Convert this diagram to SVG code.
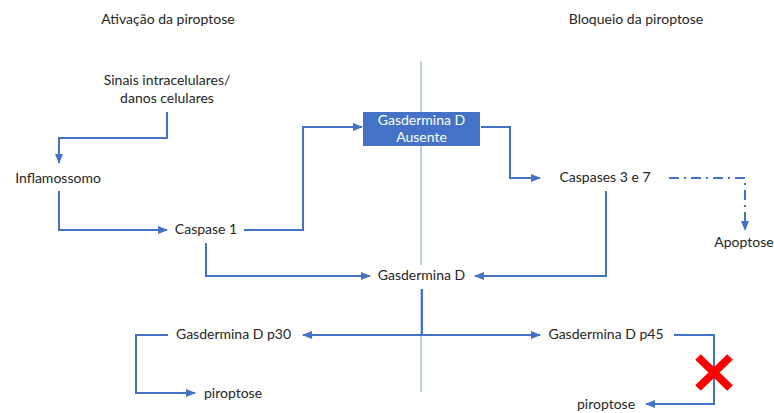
<svg xmlns="http://www.w3.org/2000/svg" width="774" height="413" viewBox="0 0 774 413">
<style>
text{font-family:Lato,"Liberation Sans",sans-serif;font-size:14px;fill:#262626;text-anchor:middle}
.c{fill:none;stroke:#4472C4;stroke-width:2}
.box text{fill:#fff}
</style>
<defs>
<marker id="a" markerUnits="userSpaceOnUse" markerWidth="10" markerHeight="10" viewBox="0 0 10 10" refX="9" refY="5" orient="auto"><path d="M0,1 L10,5 L0,9 z" fill="#4472C4"/></marker>
</defs>
<rect width="774" height="413" fill="#fff"/>
<g id="divider"><path d="M421,61 V112 M421,146 V265 M421,289 V392" stroke="#7F9FD8" stroke-width="1" fill="none"/></g>
<g id="connectors">
<path class="c" d="M167,112 V138 H59 V163" marker-end="url(#a)"/>
<path class="c" d="M59,191 V230 H167" marker-end="url(#a)"/>
<path class="c" d="M244,230 H303 V127 H362" marker-end="url(#a)"/>
<path class="c" d="M206,243 V276 H370" marker-end="url(#a)"/>
<path class="c" d="M481,127 H510 V178 H540" marker-end="url(#a)"/>
<path class="c" d="M606,191 V276 H475" marker-end="url(#a)"/>
<path class="c" d="M669,178 H745 V230" stroke-dasharray="10,5,2,5" marker-end="url(#a)"/>
<path class="c" d="M422,289 V335"/>
<path class="c" d="M422,335 H303" marker-end="url(#a)"/>
<path class="c" d="M422,335 H540" marker-end="url(#a)"/>
<path class="c" d="M168,335 H136 V393 H195" marker-end="url(#a)"/>
<path class="c" d="M674,335 H714 V404 H646" marker-end="url(#a)"/>
</g>
<g id="block-mark"><path d="M698,357 L730,388 M730,357 L698,388" stroke="#FF0000" stroke-width="8" fill="none"/></g>
<g id="header-left"><text x="168" y="24">Ativação da piroptose</text></g>
<g id="header-right"><text x="636" y="24">Bloqueio da piroptose</text></g>
<g id="sinais"><text x="167" y="85">Sinais intracelulares/</text><text x="167" y="103">danos celulares</text></g>
<g id="inflamossomo"><text x="58" y="183">Inflamossomo</text></g>
<g id="caspase1"><text x="206" y="234">Caspase 1</text></g>
<g id="gsdmd-ausente" class="box"><rect x="363" y="112" width="117" height="34" fill="#4472C4"/><text x="421.5" y="125">Gasdermina D</text><text x="421.5" y="142">Ausente</text></g>
<g id="caspases37"><text x="605" y="182">Caspases 3 e 7</text></g>
<g id="apoptose"><text x="744" y="247">Apoptose</text></g>
<g id="gsdmd"><text x="421.5" y="280">Gasdermina D</text></g>
<g id="p30"><text x="233.5" y="339">Gasdermina D p30</text></g>
<g id="p45"><text x="606" y="339">Gasdermina D p45</text></g>
<g id="piroptose-left"><text x="233" y="398">piroptose</text></g>
<g id="piroptose-right"><text x="606" y="409">piroptose</text></g>
</svg>
